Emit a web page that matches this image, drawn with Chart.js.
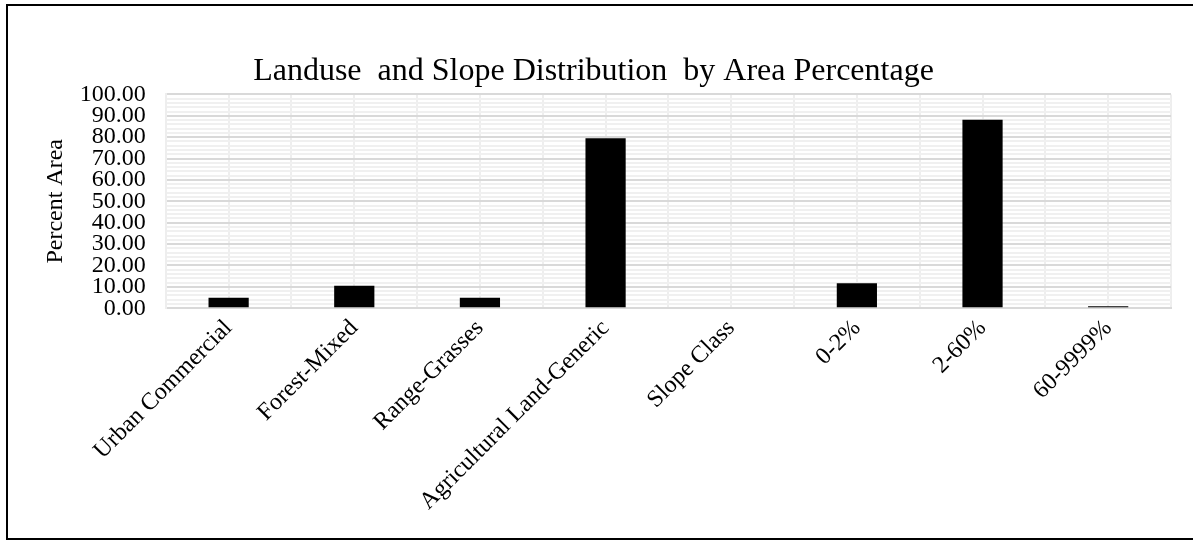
<!DOCTYPE html>
<html>
<head>
<meta charset="utf-8">
<script src="https://cdn.jsdelivr.net/npm/chart.js@4.4.0/dist/chart.umd.min.js"></script>
<style>
    html, body { margin: 0; padding: 0; background: #fff; overflow: hidden; }
    #wrap { position: absolute; left: 0; top: 0; width: 1193px; height: 540px; }
    #frame {
        position: absolute; left: 6px; top: 4px; width: 1200px; height: 532px;
        border: 2px solid #000; pointer-events: none;
    }
</style>
</head>
<body>
<div id="wrap"><canvas id="landuseChart" width="1193" height="540"></canvas></div>
<div id="frame"></div>
<script>
const categories = [
    'Urban Commercial', 'Forest-Mixed', 'Range-Grasses', 'Agricultural Land-Generic',
    'Slope Class', '0-2%', '2-60%', '60-9999%'
];
const percentArea = [4.9, 10.5, 4.9, 79.5, 0, 11.7, 88.2, 0.9];
const yTicks = [0, 10, 20, 30, 40, 50, 60, 70, 80, 90, 100];

const serif = "'Liberation Serif', 'Times New Roman', serif";

const ctx = document.getElementById('landuseChart').getContext('2d');
new Chart(ctx, {
    type: 'bar',
    data: {
        labels: categories,
        datasets: [{
            label: 'Percent Area',
            data: percentArea,
            backgroundColor: '#000',
            borderWidth: 0,
            categoryPercentage: 1,
            barPercentage: 0.32
        }]
    },
    options: {
        responsive: false,
        animation: false,
        layout: { padding: { left: 16, right: 22, top: 10, bottom: 18 } },
        plugins: {
            legend: { display: false },
            tooltip: { enabled: false },
            title: {
                display: true,
                text: 'Landuse  and Slope Distribution  by Area Percentage',
                color: '#000',
                font: { family: serif, size: 32, weight: 'normal' },
                padding: { top: 42, bottom: 4 }
            }
        },
        scales: {
            x: {
                offset: true,
                grid: { offset: false, color: '#eeeeee', lineWidth: 2, drawTicks: false },
                border: { display: true, color: '#d9d9d9', width: 2 },
                ticks: {
                    color: '#000',
                    font: { family: serif, size: 24 },
                    minRotation: 45,
                    maxRotation: 45,
                    autoSkip: false,
                    padding: 6
                }
            },
            x2: {
                type: 'category',
                labels: categories,
                position: 'bottom',
                offset: true,
                grid: { offset: true, color: '#eeeeee', lineWidth: 2, drawTicks: false },
                border: { display: false },
                ticks: { display: false }
            },
            y: {
                min: 0,
                max: 100,
                afterBuildTicks: function(scale) {
                    const t = [];
                    for (let v = 0; v <= 100; v += 2) t.push({ value: v });
                    scale.ticks = t;
                },
                grid: {
                    drawTicks: false,
                    lineWidth: 2,
                    color: function(c) {
                        return c.tick && yTicks.includes(c.tick.value) ? '#d9d9d9' : '#f0f0f0';
                    }
                },
                border: { display: true, color: '#eeeeee', width: 2 },
                ticks: {
                    autoSkip: false,
                    color: '#000',
                    padding: 20,
                    font: { family: serif, size: 24 },
                    callback: function(value) {
                        return yTicks.includes(value) ? value.toFixed(2) : '';
                    }
                },
                title: {
                    display: true,
                    text: 'Percent Area',
                    color: '#000',
                    font: { family: serif, size: 24 },
                    padding: { top: 25, bottom: -10 }
                }
            }
        }
    }
});
</script>
</body>
</html>
